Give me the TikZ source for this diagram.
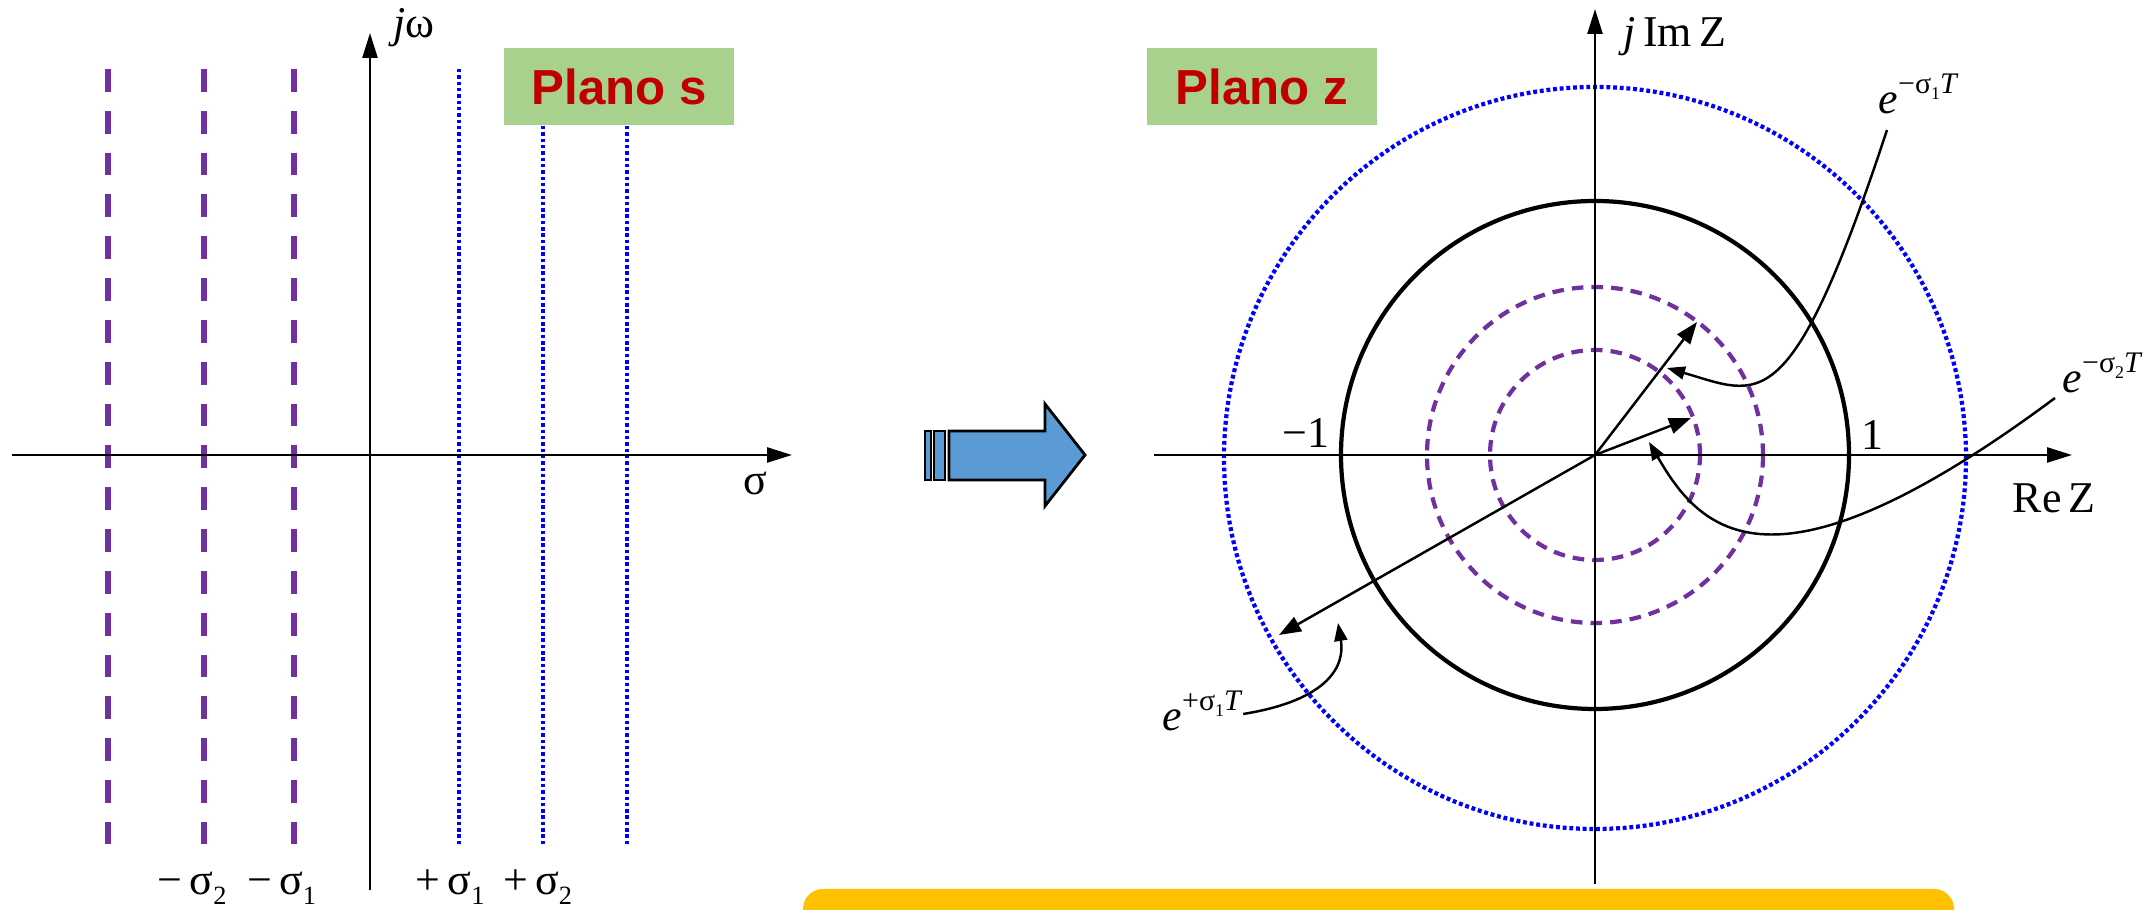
\documentclass[tikz,border=0pt]{standalone}
\usepackage{fontspec}
\setmainfont{Liberation Serif}
\newfontfamily\planofont{Liberation Sans}
\usepackage{tikz}
\usetikzlibrary{arrows.meta,positioning}
\definecolor{planogreen}{HTML}{A9D18E}
\definecolor{planored}{HTML}{C00000}
\definecolor{polepurple}{HTML}{7030A0}
\definecolor{arrowblue}{HTML}{5B9BD5}
\definecolor{notegold}{HTML}{FFC000}
\newcommand{\subidx}[1]{\raisebox{-0.45ex}{\scalebox{0.6}{#1}}}
\newcommand{\expe}[1]{\textit{e}\raisebox{1ex}{\fontsize{8.5}{10}\selectfont #1}}
\tikzset{
  axisline/.style  ={line width=0.7pt,-{Triangle[length=2.5mm,width=1.5mm]}},
  vec/.style       ={line width=0.7pt,-{Triangle[length=2.2mm,width=1.6mm]}},
  pointer/.style   ={line width=0.7pt,-{Triangle[length=1.8mm,width=1.3mm]}},
  sline/.style     ={polepurple,line width=1.7pt,dash pattern=on 6.5pt off 5.4pt},
  uline/.style     ={blue,line width=1.1pt,dash pattern=on 1pt off 0.8pt},
  scirc/.style     ={polepurple,line width=1.2pt,dash pattern=on 3.3pt off 2.3pt},
  ucirc/.style     ={blue,line width=1.2pt,dash pattern=on 1.1pt off 0.8pt},
  unitcirc/.style  ={line width=1.2pt},
  plano/.style     ={fill=planogreen,text=planored,minimum width=2.3cm,minimum height=0.77cm,
                     inner sep=0pt,font=\planofont\bfseries\fontsize{14}{16}\selectfont},
  lbl/.style       ={inner sep=0pt,font=\fontsize{12.5}{15}\selectfont},
  blockarrow/.style={draw,fill=arrowblue,line width=0.8pt}
}

\begin{document}
\begin{tikzpicture}
    \useasboundingbox (0,0) rectangle (21.5,9.1);
    \fill[notegold,rounded corners=2mm] (8.03,-0.5) rectangle (19.54,0.21);

    \coordinate (sxl) at (0.12,4.55);
    \coordinate (sxr) at (7.92,4.55);
    \coordinate (syb) at (3.70,0.20);
    \coordinate (syt) at (3.70,8.77);
    \draw[sline] (1.08,8.41) -- (1.08,0.66);
    \draw[sline] (2.04,8.41) -- (2.04,0.66);
    \draw[sline] (2.94,8.41) -- (2.94,0.66);
    \draw[uline] (4.59,8.41) -- (4.59,0.66);
    \draw[uline] (5.43,8.41) -- (5.43,0.66);
    \draw[uline] (6.27,8.41) -- (6.27,0.66);
    \draw[axisline] (sxl) -- (sxr);
    \draw[axisline] (syb) -- (syt);
    \node[plano] (splane) at (6.19,8.235) {Plano s};
    \node[lbl,anchor=base west] (jwlbl) at (3.93,8.72) {\textit{j}ω};
    \node[lbl,anchor=base] (siglbl) at (7.55,4.15) {σ};
    \node[lbl,anchor=base west] (msig2) at (1.57,0.15) {−\,σ\subidx{2}};
    \node[lbl,right=0.19cm of msig2] (msig1) {−\,σ\subidx{1}};
    \node[lbl,anchor=base west] (psig1) at (4.15,0.15) {+\,σ\subidx{1}};
    \node[lbl,right=0.17cm of psig1] (psig2) {+\,σ\subidx{2}};

    \draw[blockarrow] (9.25,4.30) rectangle (9.31,4.79);
    \draw[blockarrow] (9.34,4.30) rectangle (9.45,4.79);
    \draw[blockarrow] (9.49,4.30) -- (10.45,4.30) -- (10.45,4.04) -- (10.85,4.55)
      -- (10.45,5.06) -- (10.45,4.79) -- (9.49,4.79) -- cycle;

    \coordinate (zo)  at (15.95,4.55);
    \coordinate (zxl) at (11.54,4.55);
    \coordinate (zxr) at (20.72,4.55);
    \coordinate (zyb) at (15.95,0.26);
    \coordinate (zyt) at (15.95,9.01);
    \draw[ucirc] (15.95,4.52) circle (3.71);
    \draw[unitcirc] (zo) circle (2.54);
    \draw[scirc] (zo) circle (1.68);
    \draw[scirc] (zo) circle (1.05);
    \draw[axisline] (zxl) -- (zxr);
    \draw[axisline] (zyb) -- (zyt);
    \coordinate (v1) at (16.97,5.88);
    \coordinate (v2) at (16.91,4.92);
    \coordinate (v3) at (12.79,2.75);
    \draw[vec] (zo) -- (v1);
    \draw[vec] (zo) -- (v2);
    \draw[vec] (zo) -- (v3);
    \node[lbl,anchor=base west] (ema) at (18.78,7.96) {\expe{−σ\subidx{1}\textit{T}}};
    \node[lbl,anchor=base west] (emb) at (20.62,5.17) {\expe{−σ\subidx{2}\textit{T}}};
    \node[lbl,anchor=base west] (epa) at (11.62,1.79) {\expe{+σ\subidx{1}\textit{T}}};
    \coordinate (pa) at (16.67,5.42);
    \coordinate (pb) at (16.49,4.68);
    \coordinate (pc) at (13.38,2.87);
    \draw[pointer] ([shift={(0.09,-0.16)}]ema.base west) .. controls (17.90,4.86) and (17.60,5.15) .. (pa);
    \draw[pointer] ([shift={(-0.07,-0.05)}]emb.base west) .. controls (17.70,3.00) and (17.00,3.80) .. (pb);
    \draw[pointer] ([yshift=1.7mm]epa.base east) .. controls (13.30,2.10) and (13.45,2.45) .. (pc);
    \node[lbl,anchor=base east] (mone) at (13.30,4.62) {−1};
    \node[lbl,anchor=base] (pone) at (18.72,4.60) {1};
    \node[lbl,anchor=base west] (relbl) at (20.12,3.97) {Re\,Z};
    \node[lbl,anchor=base west] (imlbl) at (16.23,8.63) {\textit{j}\,Im\,Z};
    \node[plano] (zplane) at (12.62,8.235) {Plano z};
  \end{tikzpicture}
\end{document}
